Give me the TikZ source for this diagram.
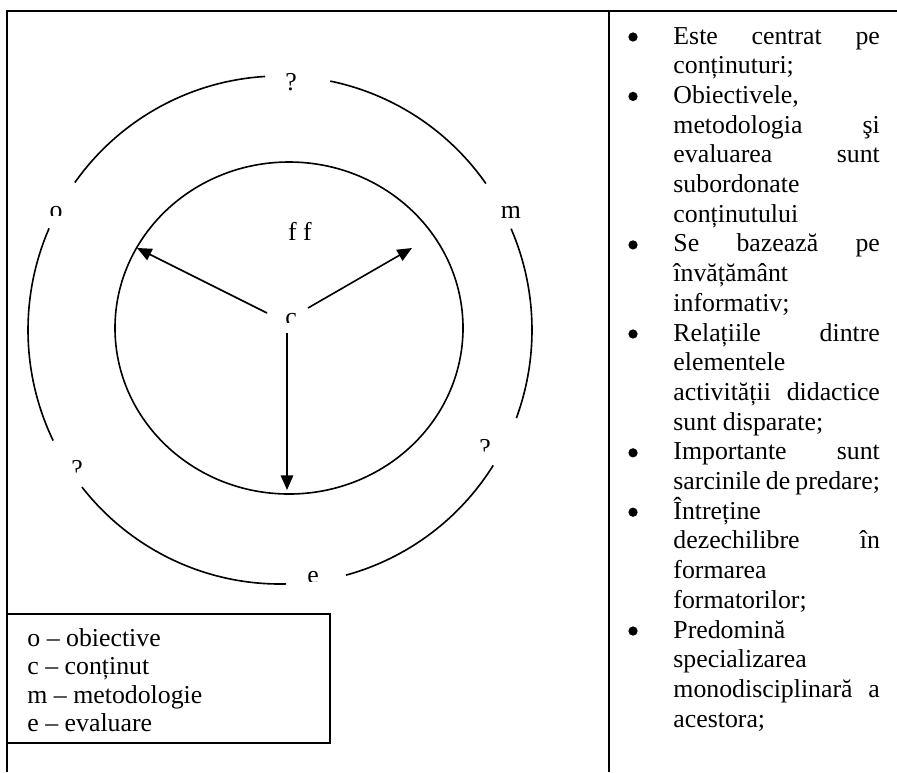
\documentclass[tikz,border=0pt]{standalone}
\usepackage{fontspec}
\setmainfont{Liberation Serif}
\usetikzlibrary{arrows.meta}
\begin{document}
\begin{tikzpicture}[x=0.465pt, y=-0.465pt,
  rule/.style={line width=0.9pt},
  ring/.style={line width=0.75pt},
  arr/.style={line width=0.75pt, -{Triangle[length=6.8pt,width=5.8pt]}},
  lbl/.style={inner sep=0pt, anchor=base, font=\fontsize{12pt}{13.8pt}\selectfont},
  txt/.style={inner sep=0pt, anchor=base west, font=\fontsize{12pt}{13.8pt}\selectfont},
  bul/.style={circle, fill=black, inner sep=0pt, minimum size=4.3pt}]
\useasboundingbox (0,0) rectangle (897,772);

% table rules
\draw[rule] (897,11) -- (7,11) -- (7,772);
\draw[rule] (609,11) -- (609,772);

% outer ring, broken where the letters sit
\begin{scope}[shift={(280,330)}]
  \draw[ring] (-78.5:252 and 254) arc[start angle=-78.5, end angle=-35.2, x radius=252, y radius=254];
  \draw[ring] (-144.5:252 and 254) arc[start angle=-144.5, end angle=-93.4, x radius=252, y radius=254];
  \draw[ring] (-205.8:252 and 254) arc[start angle=-205.8, end angle=-156.4, x radius=252, y radius=254];
  \draw[ring] (-271.4:252 and 254) arc[start angle=-271.4, end angle=-218.2, x radius=252, y radius=254];
  \draw[ring] (32.2:252 and 254) arc[start angle=32.2, end angle=74.8, x radius=252, y radius=254];
  \draw[ring] (-23.5:252 and 254) arc[start angle=-23.5, end angle=20.3, x radius=252, y radius=254];
\end{scope}

% inner ring
\draw[ring] (289,328) ellipse [x radius=174, y radius=166];

% letters on the rings (text boxes cut off at the bottom)
\node[lbl] (qtop) at (291,90) {?};
\begin{scope}
  \clip (30,190) rectangle (85,215);
  \node[lbl] (o) at (56,218) {o};
\end{scope}
\node[lbl] (m) at (511,218) {m};
\node[lbl] (ff) at (300,240) {f f};
\begin{scope}
  \clip (270,300) rectangle (312,322);
  \node[lbl] (c) at (291,325) {c};
\end{scope}
\begin{scope}
  \clip (55,440) rectangle (100,472);
  \node[lbl] (qll) at (77,477) {?};
\end{scope}
\begin{scope}
  \clip (463,420) rectangle (508,451);
  \node[lbl] (qlr) at (485,456) {?};
\end{scope}
\begin{scope}
  \clip (290,555) rectangle (336,581);
  \node[lbl] (e) at (313,583) {e};
\end{scope}

% arrows from the centre
\coordinate (cL) at (267,313); \coordinate (tL) at (137,248);
\coordinate (cR) at (308,308); \coordinate (tR) at (412,248);
\coordinate (cD) at (287,333); \coordinate (tD) at (287,490);
\draw[arr] (cL) -- (tL);
\draw[arr] (cR) -- (tR);
\draw[arr] (cD) -- (tD);

% legend
\draw[ring] (7,614) rectangle (330,743);
\node[txt] (k1) at (27,646) {o – obiective};
\node[txt] (k2) at (27,674) {c – conținut};
\node[txt] (k3) at (27,703) {m – metodologie};
\node[txt] (k4) at (27,731) {e – evaluare};

% right column: bulleted list, justified by hand
\foreach \i/\t in {
  0/{Este\hfill centrat\hfill pe},
  1/{conținuturi;\hfill},
  2/{Obiectivele,\hfill},
  3/{metodologia\hfill şi},
  4/{evaluarea\hfill sunt},
  5/{subordonate\hfill},
  6/{conținutului\hfill},
  7/{Se\hfill bazează\hfill pe},
  8/{învățământ\hfill},
  9/{informativ;\hfill},
  10/{Relațiile\hfill dintre},
  11/{elementele\hfill},
  12/{activității\hfill didactice},
  13/{sunt disparate;\hfill},
  14/{Importante\hfill sunt},
  15/{sarcinile de predare;\hfill},
  16/{Întreține\hfill},
  17/{dezechilibre\hfill în},
  18/{formarea\hfill},
  19/{formatorilor;\hfill},
  20/{Predomină\hfill},
  21/{specializarea\hfill},
  22/{monodisciplinară\hfill a},
  23/{acestora;\hfill}}
  \node[txt] (l\i) at (673,{44+29.7*\i}) {\hbox to 96pt{\t}};

\foreach \i in {0,2,7,10,14,16,20}
  \node[bul] (b\i) at (633,{37+29.7*\i}) {};
\end{tikzpicture}
\end{document}
